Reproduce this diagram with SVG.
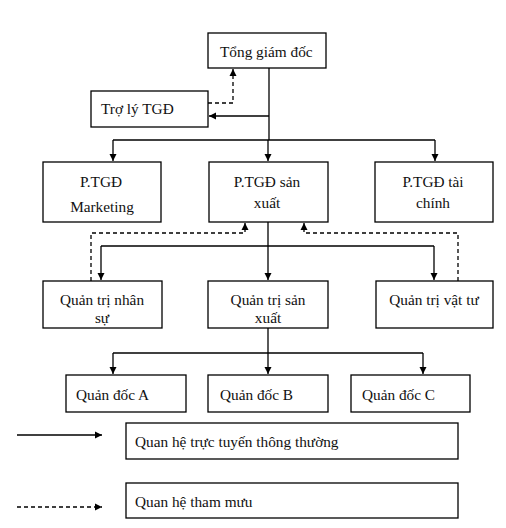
<svg xmlns="http://www.w3.org/2000/svg" width="506" height="528" viewBox="0 0 506 528">
<style>
.box{fill:#fff;stroke:#000;stroke-width:1.3}
.t{font-family:"Liberation Serif","Times New Roman",serif;font-size:15.3px;fill:#111}
.c{text-anchor:middle}
.ln{fill:none;stroke:#000;stroke-width:1.3}
.d{fill:none;stroke:#000;stroke-width:1.3;stroke-dasharray:4 3}
</style>
<defs>
<marker id="ah" markerWidth="8" markerHeight="8" refX="7" refY="4" orient="auto" markerUnits="userSpaceOnUse">
<path d="M0,0.5 L7,4 L0,7.5 Z" fill="#000"/>
</marker>
</defs>
<rect width="506" height="528" fill="#fff"/>
<g id="connectors">
<path class="ln" d="M269,68 V140"/>
<path class="ln" d="M269,116 H209" marker-end="url(#ah)"/>
<path class="d" d="M208,103 H233 V69" marker-end="url(#ah)"/>
<path class="ln" d="M113,140 H435"/>
<path class="ln" d="M113,140 V161" marker-end="url(#ah)"/>
<path class="ln" d="M268,140 V161" marker-end="url(#ah)"/>
<path class="ln" d="M435,140 V161" marker-end="url(#ah)"/>
<path class="ln" d="M268,222 V280" marker-end="url(#ah)"/>
<path class="ln" d="M101,246 H434"/>
<path class="ln" d="M101,246 V280" marker-end="url(#ah)"/>
<path class="ln" d="M434,246 V280" marker-end="url(#ah)"/>
<path class="d" d="M91,281 V233 H245 V223" marker-end="url(#ah)"/>
<path class="d" d="M458,281 V233 H304 V223" marker-end="url(#ah)"/>
<path class="ln" d="M268,328 V374" marker-end="url(#ah)"/>
<path class="ln" d="M113,353 H423"/>
<path class="ln" d="M113,353 V374" marker-end="url(#ah)"/>
<path class="ln" d="M423,353 V374" marker-end="url(#ah)"/>
<path class="ln" d="M17,435 H102" marker-end="url(#ah)"/>
<path class="d" d="M17,507 H102" marker-end="url(#ah)"/>
</g>
<g id="tgd"><rect class="box" x="208" y="33" width="118" height="35"/><text class="t" x="220" y="57">Tổng giám đốc</text></g>
<g id="troly"><rect class="box" x="91" y="91" width="117" height="36"/><text class="t" x="101" y="114">Trợ lý TGĐ</text></g>
<g id="ptgd-mkt"><rect class="box" x="43" y="162" width="118" height="60"/><text class="t c" x="101" y="187">P.TGĐ</text><text class="t c" x="102" y="212">Marketing</text></g>
<g id="ptgd-sx"><rect class="box" x="209" y="162" width="119" height="60"/><text class="t c" x="267" y="187">P.TGĐ sản</text><text class="t c" x="267" y="208">xuất</text></g>
<g id="ptgd-tc"><rect class="box" x="375" y="162" width="118" height="60"/><text class="t c" x="433" y="187">P.TGĐ tài</text><text class="t c" x="433" y="208">chính</text></g>
<g id="qt-ns"><rect class="box" x="43" y="281" width="119" height="47"/><text class="t c" x="102" y="305">Quản trị nhân</text><text class="t c" x="102" y="323">sự</text></g>
<g id="qt-sx"><rect class="box" x="208" y="281" width="120" height="47"/><text class="t c" x="268" y="305">Quản trị sản</text><text class="t c" x="268" y="323">xuất</text></g>
<g id="qt-vt"><rect class="box" x="376" y="281" width="117" height="47"/><text class="t c" x="434" y="305">Quản trị vật tư</text></g>
<g id="qd-a"><rect class="box" x="66" y="375" width="120" height="37"/><text class="t" x="76" y="400">Quản đốc A</text></g>
<g id="qd-b"><rect class="box" x="208" y="375" width="120" height="37"/><text class="t" x="220" y="400">Quản đốc B</text></g>
<g id="qd-c"><rect class="box" x="351" y="375" width="119" height="37"/><text class="t" x="362" y="400">Quản đốc C</text></g>
<g id="legend-solid"><rect class="box" x="126" y="423" width="332" height="36"/><text class="t" x="135" y="447">Quan hệ trực tuyến thông thường</text></g>
<g id="legend-dashed"><rect class="box" x="126" y="483" width="332" height="35"/><text class="t" x="135" y="507">Quan hệ tham mưu</text></g>
</svg>
